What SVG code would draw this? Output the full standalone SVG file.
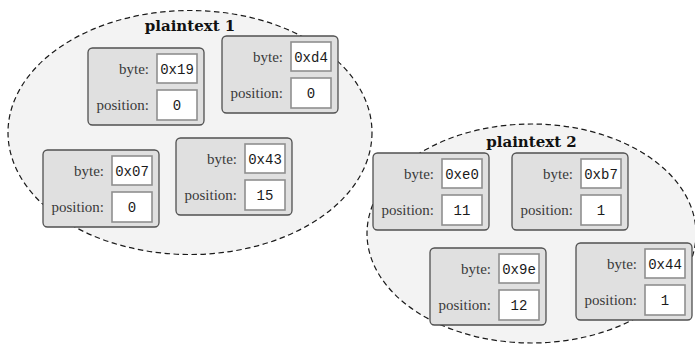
<svg xmlns="http://www.w3.org/2000/svg" width="695" height="345" viewBox="0 0 695 345">
  <style>
    .group { fill: #f3f3f3; stroke: #1a1a1a; stroke-width: 1.2; stroke-dasharray: 5.5 3.5; }
    .title { font-family: 'DejaVu Serif', 'Liberation Serif', serif; font-weight: bold; font-size: 15px; fill: #111; text-anchor: middle; }
    .card { fill: #e0e0e0; stroke: #505050; stroke-width: 1.3; }
    .slot { fill: #ffffff; stroke: #8f8f8f; stroke-width: 1.6; }
    .lbl { font-family: 'Liberation Serif', 'Times New Roman', serif; font-size: 15px; fill: #3a3a3a; text-anchor: end; }
    .val { font-family: 'Liberation Mono', 'Courier New', monospace; font-size: 14px; fill: #1a1a1a; text-anchor: middle; }
  </style>
  <defs>
    <!-- card body with its two value slots -->
    <g id="card">
      <rect class="card" x="0" y="0" width="116" height="77" rx="4.5"/>
      <rect class="slot" x="69" y="6" width="40" height="29"/>
      <rect class="slot" x="69" y="42" width="40" height="30"/>
    </g>
  </defs>

  <!-- plaintext groups -->
  <g id="plaintext1">
    <ellipse class="group" cx="190" cy="132.5" rx="182" ry="122"/>
    <text class="title" x="190" y="31">plaintext 1</text>
  </g>
  <g id="plaintext2">
    <ellipse class="group" cx="531.5" cy="233.5" rx="164.5" ry="109.5"/>
    <text class="title" x="531.5" y="147">plaintext 2</text>
  </g>

  <g id="b19" transform="translate(88,48)">
    <use href="#card"/>
    <text class="lbl" x="61" y="25.5">byte:</text>
    <text class="lbl" x="61" y="61.5">position:</text>
    <text class="val" x="89" y="25.5">0x19</text>
    <text class="val" x="89" y="61.5">0</text>
  </g>
  <g id="bd4" transform="translate(222,36)">
    <use href="#card"/>
    <text class="lbl" x="61" y="25.5">byte:</text>
    <text class="lbl" x="61" y="61.5">position:</text>
    <text class="val" x="89" y="25.5">0xd4</text>
    <text class="val" x="89" y="61.5">0</text>
  </g>
  <g id="b07" transform="translate(43,150)">
    <use href="#card"/>
    <text class="lbl" x="61" y="25.5">byte:</text>
    <text class="lbl" x="61" y="61.5">position:</text>
    <text class="val" x="89" y="25.5">0x07</text>
    <text class="val" x="89" y="61.5">0</text>
  </g>
  <g id="b43" transform="translate(176,138)">
    <use href="#card"/>
    <text class="lbl" x="61" y="25.5">byte:</text>
    <text class="lbl" x="61" y="61.5">position:</text>
    <text class="val" x="89" y="25.5">0x43</text>
    <text class="val" x="89" y="61.5">15</text>
  </g>
  <g id="be0" transform="translate(373,153)">
    <use href="#card"/>
    <text class="lbl" x="61" y="25.5">byte:</text>
    <text class="lbl" x="61" y="61.5">position:</text>
    <text class="val" x="89" y="25.5">0xe0</text>
    <text class="val" x="89" y="61.5">11</text>
  </g>
  <g id="bb7" transform="translate(512,153)">
    <use href="#card"/>
    <text class="lbl" x="61" y="25.5">byte:</text>
    <text class="lbl" x="61" y="61.5">position:</text>
    <text class="val" x="89" y="25.5">0xb7</text>
    <text class="val" x="89" y="61.5">1</text>
  </g>
  <g id="b9e" transform="translate(430,248)">
    <use href="#card"/>
    <text class="lbl" x="61" y="25.5">byte:</text>
    <text class="lbl" x="61" y="61.5">position:</text>
    <text class="val" x="89" y="25.5">0x9e</text>
    <text class="val" x="89" y="61.5">12</text>
  </g>
  <g id="b44" transform="translate(576,243)">
    <use href="#card"/>
    <text class="lbl" x="61" y="25.5">byte:</text>
    <text class="lbl" x="61" y="61.5">position:</text>
    <text class="val" x="89" y="25.5">0x44</text>
    <text class="val" x="89" y="61.5">1</text>
  </g>

  <!-- no connectors between records -->
  <g id="connectors"/>
</svg>
